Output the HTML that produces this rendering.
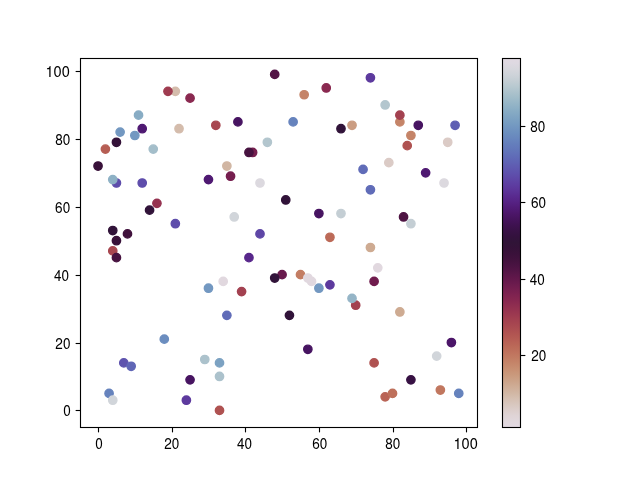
<!DOCTYPE html><html><head><meta charset="utf-8"><style>html,body{margin:0;padding:0;background:#fff;}svg{display:block;will-change:transform;}text{font-family:"TeX Gyre Heros", "Liberation Sans", sans-serif;font-size:15.10px;fill:#000;}</style></head><body>
<svg width="640" height="480" viewBox="0 0 640 480">
<rect width="640" height="480" fill="#fff"/>
<defs><linearGradient id="cb" gradientUnits="userSpaceOnUse" x1="0" y1="427.20" x2="0" y2="57.60"><stop offset="0.0000" stop-color="#e2d9e2"/><stop offset="0.0156" stop-color="#e1d8dd"/><stop offset="0.0312" stop-color="#dfd4d6"/><stop offset="0.0469" stop-color="#dccecb"/><stop offset="0.0625" stop-color="#d8c7be"/><stop offset="0.0781" stop-color="#d5bfb1"/><stop offset="0.0938" stop-color="#d1b6a3"/><stop offset="0.1094" stop-color="#cfad96"/><stop offset="0.1250" stop-color="#cca389"/><stop offset="0.1406" stop-color="#ca9a7d"/><stop offset="0.1562" stop-color="#c89073"/><stop offset="0.1719" stop-color="#c5866a"/><stop offset="0.1875" stop-color="#c27c63"/><stop offset="0.2031" stop-color="#bf725d"/><stop offset="0.2188" stop-color="#bb6958"/><stop offset="0.2344" stop-color="#b75f55"/><stop offset="0.2500" stop-color="#b25652"/><stop offset="0.2656" stop-color="#ac4d51"/><stop offset="0.2812" stop-color="#a64550"/><stop offset="0.2969" stop-color="#a03d50"/><stop offset="0.3125" stop-color="#983550"/><stop offset="0.3281" stop-color="#902e50"/><stop offset="0.3438" stop-color="#872750"/><stop offset="0.3594" stop-color="#7e2250"/><stop offset="0.3750" stop-color="#741e4f"/><stop offset="0.3906" stop-color="#691a4d"/><stop offset="0.4062" stop-color="#5f174a"/><stop offset="0.4219" stop-color="#541546"/><stop offset="0.4375" stop-color="#4a1342"/><stop offset="0.4531" stop-color="#41123d"/><stop offset="0.4688" stop-color="#3a113a"/><stop offset="0.4844" stop-color="#341238"/><stop offset="0.5000" stop-color="#301437"/><stop offset="0.5156" stop-color="#33113d"/><stop offset="0.5312" stop-color="#381145"/><stop offset="0.5469" stop-color="#3e1150"/><stop offset="0.5625" stop-color="#45135c"/><stop offset="0.5781" stop-color="#4c1669"/><stop offset="0.5938" stop-color="#511b77"/><stop offset="0.6094" stop-color="#562284"/><stop offset="0.6250" stop-color="#592a8f"/><stop offset="0.6406" stop-color="#5c3499"/><stop offset="0.6562" stop-color="#5d3da1"/><stop offset="0.6719" stop-color="#5e47a7"/><stop offset="0.6875" stop-color="#5e51ad"/><stop offset="0.7031" stop-color="#5f5ab1"/><stop offset="0.7188" stop-color="#5f64b5"/><stop offset="0.7344" stop-color="#606db8"/><stop offset="0.7500" stop-color="#6276ba"/><stop offset="0.7656" stop-color="#647ebc"/><stop offset="0.7812" stop-color="#6887be"/><stop offset="0.7969" stop-color="#6c8fbf"/><stop offset="0.8125" stop-color="#7297c1"/><stop offset="0.8281" stop-color="#799fc2"/><stop offset="0.8438" stop-color="#81a6c3"/><stop offset="0.8594" stop-color="#8aaec5"/><stop offset="0.8750" stop-color="#95b5c7"/><stop offset="0.8906" stop-color="#a0bcc9"/><stop offset="0.9062" stop-color="#acc2cc"/><stop offset="0.9219" stop-color="#b8c9d0"/><stop offset="0.9375" stop-color="#c4ced4"/><stop offset="0.9531" stop-color="#ced3d9"/><stop offset="0.9688" stop-color="#d7d7dd"/><stop offset="0.9844" stop-color="#ded9e1"/><stop offset="1.0000" stop-color="#e2d9e2"/></linearGradient><clipPath id="clip"><rect x="80.000" y="57.600" width="396.800" height="369.600"/></clipPath></defs>
<g clip-path="url(#clip)" stroke-width="1.389">
<circle cx="175.34" cy="91.37" r="4.167" fill="#d4bcac" stroke="#d4bcac"/>
<circle cx="167.97" cy="91.37" r="4.167" fill="#9f3c50" stroke="#9f3c50"/>
<circle cx="138.53" cy="115.13" r="4.167" fill="#88acc4" stroke="#88acc4"/>
<circle cx="142.21" cy="128.70" r="4.167" fill="#4f1972" stroke="#4f1972"/>
<circle cx="120.12" cy="132.10" r="4.167" fill="#7398c1" stroke="#7398c1"/>
<circle cx="134.85" cy="135.49" r="4.167" fill="#7398c1" stroke="#7398c1"/>
<circle cx="116.44" cy="142.28" r="4.167" fill="#341238" stroke="#341238"/>
<circle cx="105.40" cy="149.07" r="4.167" fill="#b65e54" stroke="#b65e54"/>
<circle cx="153.25" cy="149.07" r="4.167" fill="#a4beca" stroke="#a4beca"/>
<circle cx="190.06" cy="98.16" r="4.167" fill="#8a2950" stroke="#8a2950"/>
<circle cx="179.02" cy="128.70" r="4.167" fill="#d4bcac" stroke="#d4bcac"/>
<circle cx="215.82" cy="125.31" r="4.167" fill="#a84750" stroke="#a84750"/>
<circle cx="237.91" cy="121.92" r="4.167" fill="#471461" stroke="#471461"/>
<circle cx="267.36" cy="142.28" r="4.167" fill="#b3c6ce" stroke="#b3c6ce"/>
<circle cx="252.63" cy="152.46" r="4.167" fill="#761f4f" stroke="#761f4f"/>
<circle cx="248.95" cy="152.46" r="4.167" fill="#471340" stroke="#471340"/>
<circle cx="274.72" cy="74.40" r="4.167" fill="#541546" stroke="#541546"/>
<circle cx="326.25" cy="87.98" r="4.167" fill="#8a2950" stroke="#8a2950"/>
<circle cx="304.17" cy="94.76" r="4.167" fill="#c58468" stroke="#c58468"/>
<circle cx="293.12" cy="121.92" r="4.167" fill="#6683bd" stroke="#6683bd"/>
<circle cx="340.98" cy="128.70" r="4.167" fill="#311339" stroke="#311339"/>
<circle cx="352.02" cy="125.31" r="4.167" fill="#cb9d82" stroke="#cb9d82"/>
<circle cx="370.42" cy="77.79" r="4.167" fill="#5d3a9e" stroke="#5d3a9e"/>
<circle cx="385.15" cy="104.95" r="4.167" fill="#b3c6ce" stroke="#b3c6ce"/>
<circle cx="399.87" cy="121.92" r="4.167" fill="#c58468" stroke="#c58468"/>
<circle cx="399.87" cy="115.13" r="4.167" fill="#a34150" stroke="#a34150"/>
<circle cx="418.27" cy="125.31" r="4.167" fill="#471461" stroke="#471461"/>
<circle cx="455.08" cy="125.31" r="4.167" fill="#5f5fb3" stroke="#5f5fb3"/>
<circle cx="410.91" cy="135.49" r="4.167" fill="#c58468" stroke="#c58468"/>
<circle cx="407.23" cy="145.67" r="4.167" fill="#af5251" stroke="#af5251"/>
<circle cx="447.72" cy="142.28" r="4.167" fill="#dbcbc6" stroke="#dbcbc6"/>
<circle cx="98.04" cy="166.04" r="4.167" fill="#381139" stroke="#381139"/>
<circle cx="116.44" cy="183.01" r="4.167" fill="#5e4dab" stroke="#5e4dab"/>
<circle cx="112.76" cy="179.61" r="4.167" fill="#8eb1c5" stroke="#8eb1c5"/>
<circle cx="142.21" cy="183.01" r="4.167" fill="#5e4dab" stroke="#5e4dab"/>
<circle cx="156.93" cy="203.37" r="4.167" fill="#953250" stroke="#953250"/>
<circle cx="149.57" cy="210.16" r="4.167" fill="#311339" stroke="#311339"/>
<circle cx="175.34" cy="223.73" r="4.167" fill="#5e4dab" stroke="#5e4dab"/>
<circle cx="112.76" cy="230.52" r="4.167" fill="#311339" stroke="#311339"/>
<circle cx="127.48" cy="233.92" r="4.167" fill="#41123d" stroke="#41123d"/>
<circle cx="116.44" cy="240.70" r="4.167" fill="#381139" stroke="#381139"/>
<circle cx="226.87" cy="166.04" r="4.167" fill="#d1b6a3" stroke="#d1b6a3"/>
<circle cx="230.55" cy="176.22" r="4.167" fill="#761f4f" stroke="#761f4f"/>
<circle cx="208.46" cy="179.61" r="4.167" fill="#4f1972" stroke="#4f1972"/>
<circle cx="260.00" cy="183.01" r="4.167" fill="#dcd9df" stroke="#dcd9df"/>
<circle cx="234.23" cy="216.95" r="4.167" fill="#d1d5da" stroke="#d1d5da"/>
<circle cx="260.00" cy="233.92" r="4.167" fill="#5e46a6" stroke="#5e46a6"/>
<circle cx="285.76" cy="199.98" r="4.167" fill="#311339" stroke="#311339"/>
<circle cx="318.89" cy="213.55" r="4.167" fill="#471461" stroke="#471461"/>
<circle cx="340.98" cy="213.55" r="4.167" fill="#c4ced4" stroke="#c4ced4"/>
<circle cx="329.93" cy="237.31" r="4.167" fill="#bc6a58" stroke="#bc6a58"/>
<circle cx="388.83" cy="162.64" r="4.167" fill="#dbcbc6" stroke="#dbcbc6"/>
<circle cx="363.06" cy="169.43" r="4.167" fill="#606cb8" stroke="#606cb8"/>
<circle cx="425.64" cy="172.82" r="4.167" fill="#4f1972" stroke="#4f1972"/>
<circle cx="444.04" cy="183.01" r="4.167" fill="#dcd9df" stroke="#dcd9df"/>
<circle cx="370.42" cy="189.79" r="4.167" fill="#606cb8" stroke="#606cb8"/>
<circle cx="403.55" cy="216.95" r="4.167" fill="#4e1443" stroke="#4e1443"/>
<circle cx="410.91" cy="223.73" r="4.167" fill="#c4ced4" stroke="#c4ced4"/>
<circle cx="112.76" cy="250.88" r="4.167" fill="#a84750" stroke="#a84750"/>
<circle cx="116.44" cy="257.67" r="4.167" fill="#471340" stroke="#471340"/>
<circle cx="248.95" cy="257.67" r="4.167" fill="#58278b" stroke="#58278b"/>
<circle cx="223.19" cy="281.43" r="4.167" fill="#e1d8df" stroke="#e1d8df"/>
<circle cx="208.46" cy="288.22" r="4.167" fill="#7398c1" stroke="#7398c1"/>
<circle cx="241.59" cy="291.61" r="4.167" fill="#a34150" stroke="#a34150"/>
<circle cx="226.87" cy="315.37" r="4.167" fill="#606cb8" stroke="#606cb8"/>
<circle cx="300.49" cy="274.64" r="4.167" fill="#c37d63" stroke="#c37d63"/>
<circle cx="307.85" cy="278.04" r="4.167" fill="#e1d8df" stroke="#e1d8df"/>
<circle cx="311.53" cy="281.43" r="4.167" fill="#e1d8df" stroke="#e1d8df"/>
<circle cx="318.89" cy="288.22" r="4.167" fill="#7398c1" stroke="#7398c1"/>
<circle cx="329.93" cy="284.82" r="4.167" fill="#5d3a9e" stroke="#5d3a9e"/>
<circle cx="282.08" cy="274.64" r="4.167" fill="#691a4d" stroke="#691a4d"/>
<circle cx="274.72" cy="278.04" r="4.167" fill="#311339" stroke="#311339"/>
<circle cx="289.44" cy="315.37" r="4.167" fill="#311339" stroke="#311339"/>
<circle cx="355.70" cy="305.19" r="4.167" fill="#a34150" stroke="#a34150"/>
<circle cx="352.02" cy="298.40" r="4.167" fill="#95b5c7" stroke="#95b5c7"/>
<circle cx="370.42" cy="247.49" r="4.167" fill="#ceab92" stroke="#ceab92"/>
<circle cx="377.78" cy="267.85" r="4.167" fill="#e1d8df" stroke="#e1d8df"/>
<circle cx="374.10" cy="281.43" r="4.167" fill="#701c4e" stroke="#701c4e"/>
<circle cx="399.87" cy="311.98" r="4.167" fill="#ceab92" stroke="#ceab92"/>
<circle cx="164.29" cy="339.13" r="4.167" fill="#6b8dbf" stroke="#6b8dbf"/>
<circle cx="123.80" cy="362.88" r="4.167" fill="#5e53ae" stroke="#5e53ae"/>
<circle cx="131.16" cy="366.28" r="4.167" fill="#6066b6" stroke="#6066b6"/>
<circle cx="109.08" cy="393.43" r="4.167" fill="#6683bd" stroke="#6683bd"/>
<circle cx="112.76" cy="400.22" r="4.167" fill="#d1d5da" stroke="#d1d5da"/>
<circle cx="204.78" cy="359.49" r="4.167" fill="#acc2cc" stroke="#acc2cc"/>
<circle cx="219.51" cy="362.88" r="4.167" fill="#7ca2c2" stroke="#7ca2c2"/>
<circle cx="219.51" cy="376.46" r="4.167" fill="#acc2cc" stroke="#acc2cc"/>
<circle cx="190.06" cy="379.85" r="4.167" fill="#471461" stroke="#471461"/>
<circle cx="186.38" cy="400.22" r="4.167" fill="#5d3a9e" stroke="#5d3a9e"/>
<circle cx="219.51" cy="410.40" r="4.167" fill="#af5251" stroke="#af5251"/>
<circle cx="307.85" cy="349.31" r="4.167" fill="#471461" stroke="#471461"/>
<circle cx="451.40" cy="342.52" r="4.167" fill="#4c1669" stroke="#4c1669"/>
<circle cx="436.68" cy="356.10" r="4.167" fill="#d1d5da" stroke="#d1d5da"/>
<circle cx="374.10" cy="362.88" r="4.167" fill="#af5251" stroke="#af5251"/>
<circle cx="410.91" cy="379.85" r="4.167" fill="#371143" stroke="#371143"/>
<circle cx="440.36" cy="390.04" r="4.167" fill="#c1775f" stroke="#c1775f"/>
<circle cx="458.76" cy="393.43" r="4.167" fill="#6683bd" stroke="#6683bd"/>
<circle cx="385.15" cy="396.82" r="4.167" fill="#b96456" stroke="#b96456"/>
<circle cx="392.51" cy="393.43" r="4.167" fill="#be705b" stroke="#be705b"/>
</g>
<g stroke="#000" stroke-width="1.111" fill="none">
<line x1="98.500" y1="427.500" x2="98.500" y2="432.361"/>
<line x1="75.639" y1="410.500" x2="80.500" y2="410.500"/>
<line x1="172.500" y1="427.500" x2="172.500" y2="432.361"/>
<line x1="75.639" y1="343.500" x2="80.500" y2="343.500"/>
<line x1="245.500" y1="427.500" x2="245.500" y2="432.361"/>
<line x1="75.639" y1="275.500" x2="80.500" y2="275.500"/>
<line x1="319.500" y1="427.500" x2="319.500" y2="432.361"/>
<line x1="75.639" y1="207.500" x2="80.500" y2="207.500"/>
<line x1="393.500" y1="427.500" x2="393.500" y2="432.361"/>
<line x1="75.639" y1="139.500" x2="80.500" y2="139.500"/>
<line x1="466.500" y1="427.500" x2="466.500" y2="432.361"/>
<line x1="75.639" y1="71.500" x2="80.500" y2="71.500"/>
<line x1="520.500" y1="355.500" x2="525.361" y2="355.500"/>
<line x1="520.500" y1="279.500" x2="525.361" y2="279.500"/>
<line x1="520.500" y1="202.500" x2="525.361" y2="202.500"/>
<line x1="520.500" y1="126.500" x2="525.361" y2="126.500"/>
</g>
<rect x="502.500" y="58.500" width="18.000" height="369.000" fill="url(#cb)"/>
<rect x="502.500" y="58.500" width="18.000" height="369.000" fill="none" stroke="#000" stroke-width="1.111" stroke-linejoin="miter"/>
<rect x="80.500" y="58.500" width="397.000" height="369.000" fill="none" stroke="#000" stroke-width="1.111" stroke-linejoin="miter" stroke-linecap="square"/>
<text transform="translate(99.07 449.00) scale(0.900 1.000)" text-anchor="middle">0</text>
<text transform="translate(70.86 416.00) scale(0.900 1.000)" text-anchor="end">0</text>
<text transform="translate(171.76 449.00) scale(0.900 1.000)" text-anchor="middle">20</text>
<text transform="translate(70.44 349.00) scale(0.900 1.000)" text-anchor="end">20</text>
<text transform="translate(244.59 449.00) scale(0.900 1.000)" text-anchor="middle">40</text>
<text transform="translate(69.14 281.00) scale(0.900 1.000)" text-anchor="end">40</text>
<text transform="translate(319.77 449.00) scale(0.900 1.000)" text-anchor="middle">60</text>
<text transform="translate(70.23 213.00) scale(0.900 1.000)" text-anchor="end">60</text>
<text transform="translate(392.78 449.00) scale(0.900 1.000)" text-anchor="middle">80</text>
<text transform="translate(70.31 145.00) scale(0.900 1.000)" text-anchor="end">80</text>
<text transform="translate(465.68 449.00) scale(0.970 1.000)" text-anchor="middle">100</text>
<text transform="translate(69.88 77.00) scale(0.970 1.000)" text-anchor="end">100</text>
<text transform="translate(531.18 361.00) scale(0.900 1.000)" text-anchor="start">20</text>
<text transform="translate(529.77 285.00) scale(0.900 1.000)" text-anchor="start">40</text>
<text transform="translate(531.04 208.00) scale(0.900 1.000)" text-anchor="start">60</text>
<text transform="translate(530.13 132.00) scale(0.900 1.000)" text-anchor="start">80</text>
</svg></body></html>
